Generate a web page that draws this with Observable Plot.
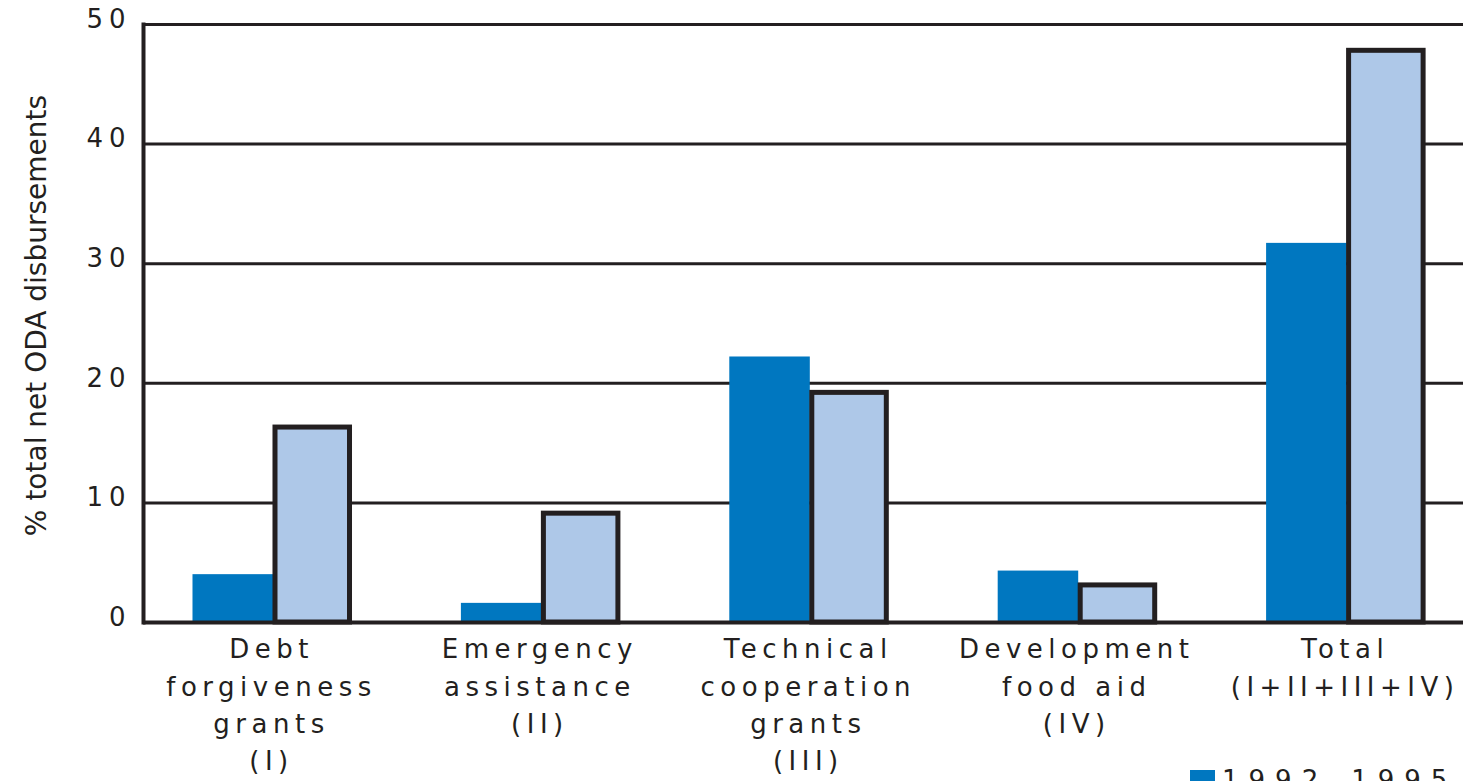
<!DOCTYPE html>
<html><head><meta charset="utf-8">
<script src="https://cdn.jsdelivr.net/npm/d3@7"></script>
<script src="https://cdn.jsdelivr.net/npm/@observablehq/plot@0.6"></script>
<style>
body{margin:0;background:#fff;overflow:hidden;}
#chart{position:relative;width:1463px;height:781px;overflow:hidden;}
#chart svg text{letter-spacing:5.5px;}
#chart svg g[aria-label="y-axis tick label"] text{letter-spacing:6px;}
#chart svg g[aria-label="text"] text{letter-spacing:0px;}
.legend{position:absolute;left:1190px;top:765px;display:flex;align-items:flex-start;font-family:"DejaVu Sans";font-size:26px;line-height:30px;letter-spacing:10px;color:#231F20;white-space:nowrap;}
.sw{width:25px;height:14px;margin-top:5px;margin-right:7px;}
</style></head><body><div id="chart"></div>
<script>
const categories = ["Debt forgiveness grants (I)", "Emergency assistance (II)", "Technical cooperation grants (III)", "Development food aid (IV)", "Total (I+II+III+IV)"];
const categoryLabels = ["Debt\nforgiveness\ngrants\n(I)", "Emergency\nassistance\n(II)", "Technical\ncooperation\ngrants\n(III)", "Development\nfood aid\n(IV)", "Total\n(I+II+III+IV)"];
const seriesNames = ["1992–1995", "Later period"];
const seriesColors = ["#0077C0", "#AEC8E8"];
const valuesEarly = [4.0, 1.6, 22.2, 4.3, 31.7];
const valuesLate = [16.3, 9.1, 19.2, 3.1, 47.8];
const yTicks = [0, 10, 20, 30, 40, 50];
const yLabel = "% total net ODA disbursements";

const ink = "#231F20";
const labelMap = new Map(categories.map((c, i) => [c, categoryLabels[i]]));
const dEarly = categories.map((c, i) => ({category: c, series: seriesNames[0], value: valuesEarly[i]}));
const dLate = categories.map((c, i) => ({category: c, series: seriesNames[1], value: valuesLate[i]}));

const chart = Plot.plot({
  width: 1463, height: 781,
  marginLeft: 143, marginRight: 0, marginTop: 24, marginBottom: 159,
  style: {fontFamily: "DejaVu Sans", color: ink, background: "#fff"},
  x: {domain: categories, range: [136.8, 1478.8], paddingInner: 0.415, paddingOuter: 0.2075, round: false, label: null},
  y: {domain: [0, 50], label: null},
  marks: [
    Plot.ruleY(yTicks.filter(d => d > 0), {stroke: ink, strokeWidth: 3}),
    Plot.barY(dEarly, {x: "category", y: "value", fill: seriesColors[0], insetRight: 76.5}),
    Plot.barY(dLate, {x: "category", y: "value", fill: seriesColors[1], stroke: ink, strokeWidth: 5, insetLeft: 82.5}),
    Plot.ruleY([0], {stroke: ink, strokeWidth: 4}),
    Plot.frame({anchor: "left", stroke: ink, strokeWidth: 4}),
    Plot.axisY({ticks: yTicks, tickSize: 0, tickPadding: 12, fontSize: 26, dy: -5, label: null}),
    Plot.axisX({tickSize: 0, tickPadding: 9, fontSize: 26, lineHeight: 1.44, tickFormat: d => labelMap.get(d), label: null}),
    Plot.text([yLabel], {frameAnchor: "left", textAnchor: "middle", lineAnchor: "middle", rotate: -90, dx: -106, dy: -8, fontSize: 28})
  ]
});
const host = document.getElementById("chart");
host.appendChild(chart);
const lg = document.createElement("div");
lg.className = "legend";
lg.innerHTML = `<div class="sw" style="background:${seriesColors[0]}"></div><span>${seriesNames[0]}</span>`;
host.appendChild(lg);
</script></body></html>
